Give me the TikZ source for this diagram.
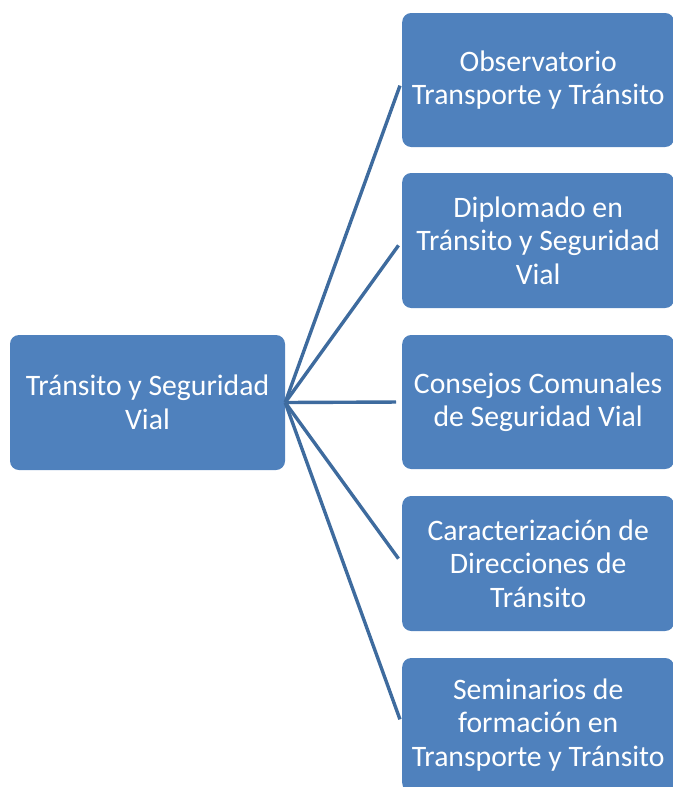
\documentclass[tikz,border=0pt]{standalone}
\usepackage{fontspec}
\setmainfont{Carlito}
\definecolor{boxblue}{HTML}{4F81BD}
\definecolor{lineblue}{HTML}{3E6B9E}
\begin{document}
\begin{tikzpicture}[x=1pt,y=-1pt,
  box/.style={fill=boxblue, rounded corners=9pt, text=white, align=center,
    inner sep=0pt, font=\fontsize{29.7}{33.5}\selectfont},
  conn/.style={draw=lineblue, line width=3.4pt, shorten >=6pt}]
\useasboundingbox (0,0) rectangle (672,787);
\node[box, minimum width=275pt, minimum height=135pt] (L) at (147.5,402.5) {Tránsito y Seguridad\\Vial};
\node[box, minimum width=272pt, minimum height=134pt, anchor=west] (R1) at (402,80) {Observatorio\\Transporte y Tránsito};
\node[box, minimum width=272pt, minimum height=135pt, anchor=west] (R2) at (402,240.5) {Diplomado en\\Tránsito y Seguridad\\Vial};
\node[box, minimum width=272pt, minimum height=134pt, anchor=west] (R3) at (402,402) {Consejos Comunales\\de Seguridad Vial};
\node[box, minimum width=272pt, minimum height=135pt, anchor=west] (R4) at (402,563.5) {Caracterización de\\Direcciones de\\Tránsito};
\node[box, minimum width=272pt, minimum height=134pt, anchor=west] (R5) at (402,725) {Seminarios de\\formación en\\Transporte y Tránsito};
\foreach \r in {R1,R2,R3,R4,R5} \draw[conn] (L.east) -- (\r.west);
\end{tikzpicture}
\end{document}
